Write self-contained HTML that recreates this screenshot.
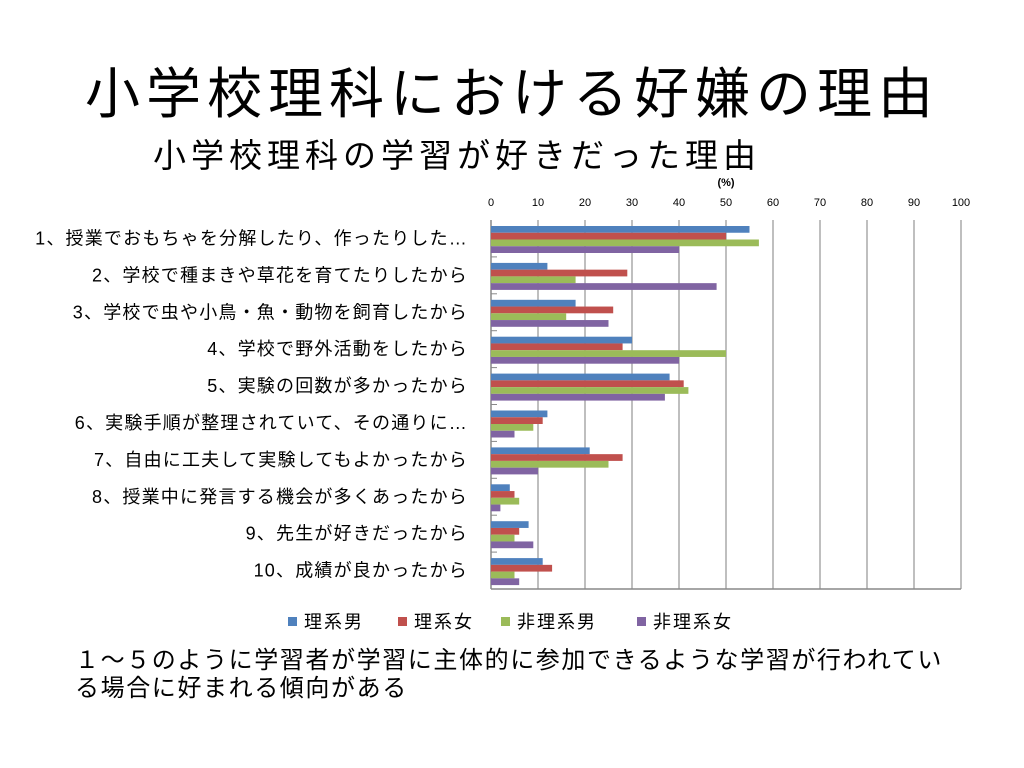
<!DOCTYPE html>
<html><head><meta charset="utf-8"><style>
body{margin:0;width:1024px;height:768px;background:#fff;overflow:hidden;font-family:"Liberation Sans","Noto Sans CJK JP",sans-serif;position:relative}
.t{position:absolute;white-space:nowrap;color:#000}
</style></head><body>
<div class="t" style="left:0;width:1024px;text-align:center;top:62px;font-size:55px;line-height:64px;letter-spacing:6px">小学校理科における好嫌の理由</div>
<div class="t" style="left:153px;top:136px;font-size:33px;line-height:40px;letter-spacing:5px">小学校理科の学習が好きだった理由</div>
<svg id="chart" width="1024" height="640" style="position:absolute;left:0;top:0" font-family="Liberation Sans, Noto Sans CJK JP, sans-serif"></svg>
<div class="t" style="left:75px;top:647px;font-size:24px;line-height:28px;letter-spacing:1.6px">１～５のように学習者が学習に主体的に参加できるような学習が行われてい<br>る場合に好まれる傾向がある</div>
<script>
const categories=["1、授業でおもちゃを分解したり、作ったりした…","2、学校で種まきや草花を育てたりしたから","3、学校で虫や小鳥・魚・動物を飼育したから","4、学校で野外活動をしたから","5、実験の回数が多かったから","6、実験手順が整理されていて、その通りに…","7、自由に工夫して実験してもよかったから","8、授業中に発言する機会が多くあったから","9、先生が好きだったから","10、成績が良かったから"];
const seriesNames=["理系男","理系女","非理系男","非理系女"];
const rikeiOtoko=[55,12,18,30,38,12,21,4,8,11];
const rikeiOnna=[50,29,26,28,41,11,28,5,6,13];
const hiRikeiOtoko=[57,18,16,50,42,9,25,6,5,5];
const hiRikeiOnna=[40,48,25,40,37,5,10,2,9,6];
const tickLabels=[0,10,20,30,40,50,60,70,80,90,100];
const series=[rikeiOtoko,rikeiOnna,hiRikeiOtoko,hiRikeiOnna];
const colors=["#4f81bd","#c0504d","#9bbb59","#8064a2"];
const svg=document.getElementById('chart');const NS="http://www.w3.org/2000/svg";
const X0=491,X1=961,Y0=220,Y1=589;
const x=v=>X0+(v-0)/(100)*(X1-X0);
const band=(Y1-Y0)/categories.length;
function mk(t,a){const e=document.createElementNS(NS,t);for(const k in a)e.setAttribute(k,a[k]);svg.appendChild(e);return e;}
tickLabels.forEach(v=>{
 const g=mk('line',{x1:x(v),x2:x(v),y1:Y0,y2:Y1,stroke:v===0?'#888':'#aaa','stroke-width':1.5});
 
 
 const t=mk('text',{x:x(v),y:206,'font-size':11,'text-anchor':'middle'});t.textContent=v;
 
 
});
const u=mk('text',{x:726,y:186,'font-size':11,'text-anchor':'middle','font-weight':'bold'});u.textContent="(%)";


const ax=mk('line',{x1:X0,x2:X1,y1:Y1,y2:Y1,stroke:'#888','stroke-width':1.5});


const bh=6.75;
categories.forEach((c,i)=>{
 const by=Y0+i*band;
 const lab=mk('text',{x:468,y:by+band/2+6,'font-size':18,'text-anchor':'end','letter-spacing':1.2});lab.textContent=c;
 
 
 if(i>0){const tk=mk('line',{x1:X0,x2:X0+6,y1:by,y2:by,stroke:'#888'});}
 series.forEach((s,j)=>{
  const r=mk('rect',{x:X0,y:by+6+j*bh,width:x(s[i])-X0,height:bh,fill:colors[j]});
  
  
 });
});
const lx=[288,398,501,637];
seriesNames.forEach((n,j)=>{
 const r=mk('rect',{x:lx[j],y:617,width:9,height:9,fill:colors[j]});
 
 
 const t=mk('text',{x:lx[j]+16,y:628,'font-size':18,'letter-spacing':2});t.textContent=n;
 
 
});
</script>
</body></html>
